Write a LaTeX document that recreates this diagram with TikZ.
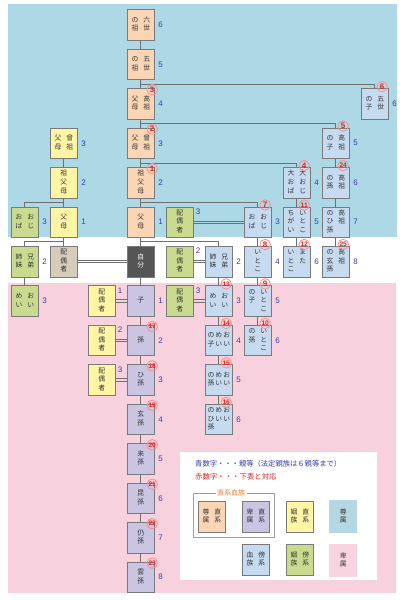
\documentclass[tikz,border=0pt]{standalone}
\usepackage{fontspec}
\setmainfont{Noto Sans CJK JP}
\newfontfamily\arialf{Liberation Sans}
\usetikzlibrary{calc}
\definecolor{bgblue}{HTML}{ADD8E6}
\definecolor{bgpink}{HTML}{F7D2DE}
\definecolor{cpeach}{HTML}{FCD5B4}
\definecolor{cpurple}{HTML}{C9C5E3}
\definecolor{cyellow}{HTML}{FFF5A5}
\definecolor{cblue}{HTML}{C6DBF0}
\definecolor{cgreen}{HTML}{CADB90}
\definecolor{ctan}{HTML}{D5CDB9}
\definecolor{cdark}{HTML}{555555}
\definecolor{lgblue}{HTML}{B5D6E3}
\definecolor{lgpink}{HTML}{F8D4E0}
\definecolor{bordergray}{HTML}{7A7A7A}
\definecolor{linegray}{HTML}{707070}
\definecolor{textgray}{HTML}{333333}
\definecolor{degblue}{HTML}{3C3CA8}
\definecolor{numred}{HTML}{E8201C}
\definecolor{legorange}{HTML}{F08030}
\newcommand\kvc[1]{\begin{tabular}[t]{@{}c@{}}#1\end{tabular}}
\newcommand\ktwo[2]{\kvc{#2}\hspace{5pt}\kvc{#1}}
\newcommand\kthree[3]{\kvc{#3}\hspace{1pt}\kvc{#2}\hspace{1pt}\kvc{#1}}
\newcommand\kbox[6]{\node[kb,#4] (#1) at (#2,#3) {#5};\node[deg] (#1n) at ([xshift=3.5pt]#1.east) {#6};}
\newcommand\kspouse[6]{\node[kb,#4] (#1) at (#2,#3) {#5};\node[deg] (#1n) at ([xshift=2pt,yshift=-5pt]#1.north east) {#6};}
\newcommand\kcmain[3]{\node[#3] (#1c) at ([xshift=-2.5pt,yshift=-1.5pt]#1.north east) {#2};}
\newcommand\kcoth[3]{\node[#3] (#1c) at ([xshift=-6.5pt,yshift=1.5pt]#1.north east) {#2};}
\newcommand\kdbl[2]{\draw[ln] ([yshift=1.2pt]#1.east) -- ([yshift=1.2pt]#2.west);\draw[ln] ([yshift=-1.2pt]#1.east) -- ([yshift=-1.2pt]#2.west);}
\tikzset{
 kb/.style={draw=bordergray, line width=0.7pt, minimum width=27pt, minimum height=30.5pt, inner sep=0pt, anchor=north west, font=\fontsize{6.8}{8.6}\selectfont, text=textgray},
 sonz/.style={fill=cpeach}, hiz/.style={fill=cpurple}, inz/.style={fill=cyellow},
 bok/.style={fill=cblue}, inb/.style={fill=cgreen}, selfsp/.style={fill=ctan},
 deg/.style={anchor=west, inner sep=0pt, text=degblue, font=\arialf\fontsize{8}{8}\selectfont},
 cn/.style={circle, draw=red!45, line width=0.8pt, inner sep=0pt, minimum size=10.5pt, text=numred, font=\arialf\bfseries\fontsize{8}{8}\selectfont},
 cnn/.style={cn, font=\arialf\bfseries\fontsize{6.6}{6.6}\selectfont},
 ln/.style={draw=linegray, line width=0.8pt}
}
\begin{document}
\begin{tikzpicture}[x=1pt,y=-1pt]
\useasboundingbox (0,0) rectangle (402,600);
\fill[white] (0,0) rectangle (402,600);
\fill[bgblue] (8,4) rectangle (397,237);
\fill[bgpink] (8,283) rectangle (396,593);
\fill[white] (180,452) rectangle (377,580);
% main column
\kbox{m0}{127}{9.3}{sonz}{\ktwo{六\\世}{の\\祖}}{6}
\kbox{m1}{127}{48.75}{sonz}{\ktwo{五\\世}{の\\祖}}{5}
\kbox{m2}{127}{88.2}{sonz}{\ktwo{高\\祖}{父\\母}}{4}
\kbox{m3}{127}{127.65}{sonz}{\ktwo{曾\\祖}{父\\母}}{3}
\kbox{m4}{127}{167.1}{sonz}{\kvc{祖\\父\\母}}{2}
\kbox{m5}{127}{206.55}{sonz}{\kvc{父\\母}}{1}
\node[kb,fill=cdark,text=white] (m6) at (127,246) {\kvc{自\\分}};
\kbox{m7}{127}{285.45}{hiz}{\kvc{子}}{1}
\kbox{m8}{127}{324.9}{hiz}{\kvc{孫}}{2}
\kbox{m9}{127}{364.35}{hiz}{\kvc{ひ\\孫}}{3}
\kbox{m10}{127}{403.8}{hiz}{\kvc{玄\\孫}}{4}
\kbox{m11}{127}{443.25}{hiz}{\kvc{来\\孫}}{5}
\kbox{m12}{127}{482.7}{hiz}{\kvc{昆\\孫}}{6}
\kbox{m13}{127}{522.15}{hiz}{\kvc{仍\\孫}}{7}
\kbox{m14}{127}{561.6}{hiz}{\kvc{雲\\孫}}{8}
% right columns
\kbox{e2}{361}{88.2}{bok}{\ktwo{五\\世}{の\\子}}{6}
\kbox{d3}{322}{127.65}{bok}{\ktwo{高\\祖}{の\\子}}{5}
\kbox{d4}{322}{167.1}{bok}{\ktwo{高\\祖}{の\\孫}}{6}
\kbox{d5}{322}{206.55}{bok}{\ktwo{高\\祖}{の\\ひ\\孫}}{7}
\kbox{d6}{322}{246}{bok}{\ktwo{高\\祖}{の\\玄\\孫}}{8}
\kbox{c4}{283}{167.1}{bok}{\ktwo{大\\お\\じ}{大\\お\\ば}}{4}
\kbox{c5}{283}{206.55}{bok}{\ktwo{い\\と\\こ}{ち\\が\\い}}{5}
\kbox{c6}{283}{246}{bok}{\ktwo{ま\\た}{い\\と\\こ}}{6}
\kbox{b5}{244}{206.55}{bok}{\ktwo{お\\じ}{お\\ば}}{3}
\kbox{b6}{244}{246}{bok}{\kvc{い\\と\\こ}}{4}
\kbox{b7}{244}{285.45}{bok}{\ktwo{い\\と\\こ}{の\\子}}{5}
\kbox{b8}{244}{324.9}{bok}{\ktwo{い\\と\\こ}{の\\孫}}{6}
\kbox{a6}{205}{246}{bok}{\ktwo{兄\\弟}{姉\\妹}}{2}
\kbox{a7}{205}{285.45}{bok}{\ktwo{お\\い}{め\\い}}{3}
\kbox{a8}{205}{324.9}{bok}{\kthree{お\\い}{め\\い}{の\\子}}{4}
\kbox{a9}{205}{364.35}{bok}{\kthree{お\\い}{め\\い}{の\\孫}}{5}
\kbox{a10}{205}{403.8}{bok}{\kthree{お\\い}{め\\い}{の\\ひ\\孫}}{6}
% left columns
\kbox{l3}{50}{127.65}{inz}{\ktwo{曾\\祖}{父\\母}}{3}
\kbox{l4}{50}{167.1}{inz}{\kvc{祖\\父\\母}}{2}
\kbox{l5}{50}{206.55}{inz}{\kvc{父\\母}}{1}
\node[kb,selfsp] (l6) at (50,246) {\kvc{配\\偶\\者}};
\kbox{k5}{11}{206.55}{inb}{\ktwo{お\\じ}{お\\ば}}{3}
\kbox{k6}{11}{246}{inb}{\ktwo{兄\\弟}{姉\\妹}}{2}
\kbox{k7}{11}{285.45}{inb}{\ktwo{お\\い}{め\\い}}{3}
% spouses
\kspouse{s5}{166}{206.55}{inb}{\kvc{配\\偶\\者}}{3}
\kspouse{s6}{166}{246}{inb}{\kvc{配\\偶\\者}}{2}
\kspouse{s7}{166}{285.45}{inb}{\kvc{配\\偶\\者}}{3}
\kspouse{p7}{88}{285.45}{inz}{\kvc{配\\偶\\者}}{1}
\kspouse{p8}{88}{324.9}{inz}{\kvc{配\\偶\\者}}{2}
\kspouse{p9}{88}{364.35}{inz}{\kvc{配\\偶\\者}}{3}
% connectors
\foreach \i [evaluate=\i as \j using int(\i+1)] in {0,...,13} {\draw[ln] (m\i.south) -- (m\j.north);}
\draw[ln] ($(m1.south)!.5!(m2.north)$) -| (e2.north);
\draw[ln] ($(m2.south)!.5!(m3.north)$) -| (d3.north);
\draw[ln] ($(m3.south)!.5!(m4.north)$) -| (c4.north);
\draw[ln] ($(m4.south)!.5!(m5.north)$) -| (b5.north);
\draw[ln] ($(m5.south)!.5!(m6.north)$) -| (a6.north);
\draw[ln] (d3.south) -- (d4.north) (d4.south) -- (d5.north) (d5.south) -- (d6.north);
\draw[ln] (c4.south) -- (c5.north) (c5.south) -- (c6.north);
\draw[ln] (b5.south) -- (b6.north) (b6.south) -- (b7.north) (b7.south) -- (b8.north);
\draw[ln] (a6.south) -- (a7.north) (a7.south) -- (a8.north) (a8.south) -- (a9.north) (a9.south) -- (a10.north);
\draw[ln] (l3.south) -- (l4.north) (l4.south) -- (l5.north) (l5.south) -- (l6.north);
\draw[ln] ($(l4.south)!.5!(l5.north)$) -| (k5.north);
\draw[ln] ($(l5.south)!.5!(l6.north)$) -| (k6.north);
\draw[ln] (k6.south) -- (k7.north);
\kdbl{l6}{m6}
\kdbl{s5}{b5}
\kdbl{s6}{a6}
\kdbl{s7}{a7}
\kdbl{p7}{m7}
\kdbl{p8}{m8}
\kdbl{p9}{m9}
% circled numbers
\kcmain{m2}{3}{cn}
\kcmain{m3}{2}{cn}
\kcmain{m4}{1}{cn}
\kcmain{m8}{17}{cnn}
\kcmain{m9}{18}{cnn}
\kcmain{m10}{19}{cnn}
\kcmain{m11}{20}{cnn}
\kcmain{m12}{21}{cnn}
\kcmain{m13}{22}{cnn}
\kcmain{m14}{23}{cnn}
\kcoth{e2}{6}{cn}
\kcoth{d3}{5}{cn}
\kcoth{d4}{24}{cnn}
\kcoth{d6}{25}{cnn}
\kcoth{c4}{4}{cn}
\kcoth{c5}{11}{cnn}
\kcoth{c6}{12}{cnn}
\kcoth{b5}{7}{cn}
\kcoth{b6}{8}{cn}
\kcoth{b7}{9}{cn}
\kcoth{b8}{10}{cnn}
\kcoth{a7}{13}{cnn}
\kcoth{a8}{14}{cnn}
\kcoth{a9}{15}{cnn}
\kcoth{a10}{16}{cnn}
% legend
\node[anchor=west, inner sep=0pt, text=degblue, font=\fontsize{7.3}{7.3}\selectfont] (lt1) at (195,464) {青数字・・・親等（法定親族は６親等まで）};
\node[anchor=west, inner sep=0pt, text=numred, font=\fontsize{7.4}{7.4}\selectfont] (lt2) at (195,477) {赤数字・・・下表と対応};
\draw[draw=gray!75, line width=0.8pt] (193,493) rectangle (274,537);
\node[fill=white, inner sep=1.5pt, text=legorange, font=\fontsize{7}{7}\selectfont] (lt3) at (231,493) {直系血族};
\node[kb,sonz] (g1) at (198,501) {\ktwo{直\\系}{尊\\属}};
\node[kb,hiz] (g2) at (242,501) {\ktwo{直\\系}{卑\\属}};
\node[kb,inz] (g3) at (286,501) {\ktwo{直\\系}{姻\\族}};
\node[kb,draw=none,fill=lgblue,minimum height=33pt,minimum width=28pt] (g4) at (329,500) {\kvc{尊\\属}};
\node[kb,bok] (g5) at (242,544) {\ktwo{傍\\系}{血\\族}};
\node[kb,inb] (g6) at (286,544) {\ktwo{傍\\系}{姻\\族}};
\node[kb,draw=none,fill=lgpink,minimum height=33pt,minimum width=28pt] (g7) at (329,544) {\kvc{卑\\属}};
\end{tikzpicture}
\end{document}
